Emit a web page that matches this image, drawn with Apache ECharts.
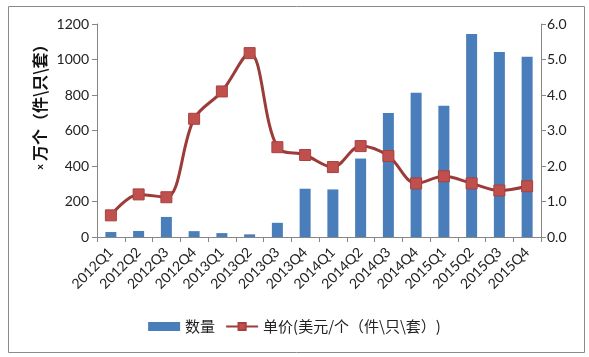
<!DOCTYPE html>
<html><head><meta charset="utf-8">
<script src="https://cdn.jsdelivr.net/npm/echarts@6/dist/echarts.min.js"></script>
<style>html,body{margin:0;padding:0;background:#fff}#c{width:589px;height:357px}</style>
</head><body><div id="c"></div>
<script>
const categories = ['2012Q1','2012Q2','2012Q3','2012Q4','2013Q1','2013Q2','2013Q3','2013Q4','2014Q1','2014Q2','2014Q3','2014Q4','2015Q1','2015Q2','2015Q3','2015Q4'];
const quantity = [28, 34, 113, 33, 22, 15, 80, 272, 268, 442, 699, 813, 740, 1144, 1042, 1015];
const unitPrice = [0.61, 1.2, 1.12, 3.33, 4.1, 5.18, 2.53, 2.31, 1.97, 2.56, 2.28, 1.51, 1.71, 1.51, 1.31, 1.43];
const leftTicks = {min: 0, max: 1200, interval: 200};
const rightTicks = {min: 0, max: 6, interval: 1};
const seriesNames = ['数量', '单价(美元/个（件\\只\\套）)'];
const yTitle = '万个（件\\只\\套）';

const font = 'Lato, "Noto Sans CJK SC", sans-serif';
const cjk = '"Noto Sans CJK SC", sans-serif';
const axisLine = {show: true, lineStyle: {color: '#868686', width: 1}};
const chart = echarts.init(document.getElementById('c'), null, {renderer: 'canvas'});
chart.setOption({
  animation: false,
  backgroundColor: '#fff',
  grid: {left: 97, right: 48, top: 24, bottom: 120, containLabel: false},
  legend: {
    bottom: 18, left: 'center', itemGap: 10,
    textStyle: {fontFamily: cjk, fontSize: 15, color: '#222'},
    data: [
      {name: seriesNames[0], icon: 'rect', itemStyle: {color: '#4A7EBB'}},
      {name: seriesNames[1]}
    ],
    itemWidth: 32, itemHeight: 9
  },
  xAxis: {
    type: 'category', data: categories, boundaryGap: true,
    axisLine: axisLine,
    axisTick: {show: true, length: 5, alignWithLabel: false, lineStyle: {color: '#868686'}},
    axisLabel: {rotate: 45, interval: 0, fontFamily: font, fontSize: 14, color: '#222', margin: 13},
    splitLine: {show: false}
  },
  yAxis: [
    {type: 'value', min: leftTicks.min, max: leftTicks.max, interval: leftTicks.interval,
     axisLine: axisLine, axisTick: {show: true, length: 5, lineStyle: {color: '#868686'}},
     axisLabel: {fontFamily: font, fontSize: 14, color: '#222', margin: 8, formatter: v => String(v)},
     splitLine: {show: false}},
    {type: 'value', min: rightTicks.min, max: rightTicks.max, interval: rightTicks.interval, position: 'right',
     axisLine: axisLine, axisTick: {show: true, length: 5, lineStyle: {color: '#868686'}},
     axisLabel: {fontFamily: font, fontSize: 14, color: '#222', margin: 6, formatter: v => v.toFixed(1)},
     splitLine: {show: false}}
  ],
  graphic: [
    {type: 'rect', shape: {x: 8.5, y: 6.5, width: 576, height: 346}, style: {fill: null, stroke: '#8a8a8a', lineWidth: 1}, silent: true},
    {type: 'text', x: 40, y: 103, rotation: Math.PI / 2,
     style: {text: '{s|x} {t|' + yTitle + '}', align: 'center', verticalAlign: 'middle',
       rich: {s: {fontFamily: font, fontSize: 10, fill: '#111', fontWeight: 'bold'},
              t: {fontFamily: cjk, fontSize: 16, fill: '#111', fontWeight: 'bold'}}}}
  ],
  series: [
    {name: seriesNames[0], type: 'bar', data: quantity, yAxisIndex: 0, barWidth: 11,
     itemStyle: {color: '#4A7EBB'}},
    {name: seriesNames[1], type: 'line', data: unitPrice, yAxisIndex: 1, smooth: 0.35,
     symbol: 'rect', symbolSize: 11,
     lineStyle: {color: '#9B3B3A', width: 3},
     itemStyle: {color: '#C0504D', borderColor: '#A8403D', borderWidth: 1}}
  ]
});
</script></body></html>
